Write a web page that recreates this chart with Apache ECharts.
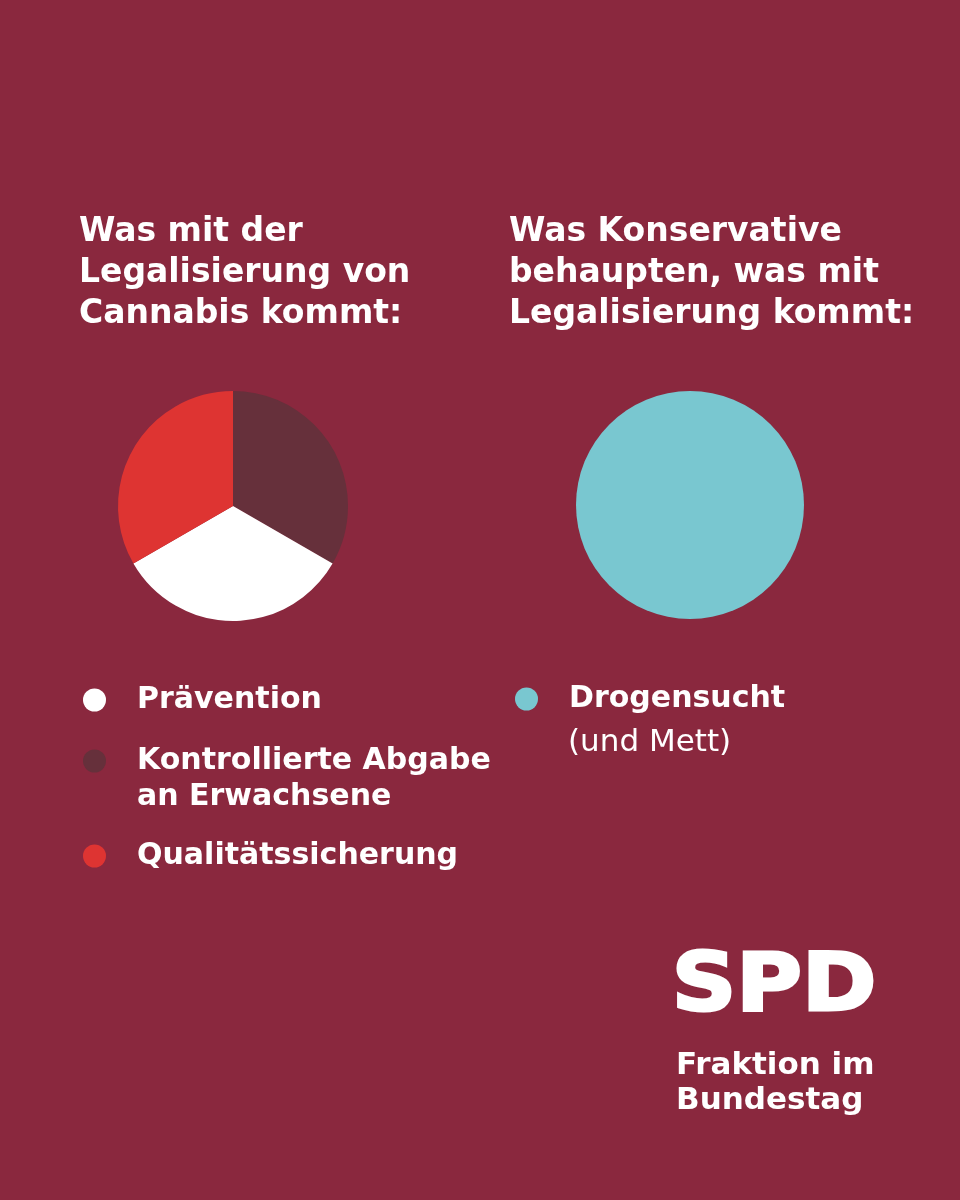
<!DOCTYPE html>
<html>
<head>
<meta charset="utf-8">
<script src="https://cdn.jsdelivr.net/npm/echarts@6/dist/echarts.min.js"></script>
<style>
  html, body { margin: 0; padding: 0; background: #8a283e; }
  #chart { width: 960px; height: 1200px; }
</style>
</head>
<body>
<div id="chart"></div>
<script>
// Daten
const realNames = ['Kontrollierte Abgabe', 'Prävention', 'Qualitätssicherung']
const realValues = [1, 1, 1]
const realColors = ['#66303b', '#ffffff', '#de3432']
const claimNames = ['Drogensucht']
const claimValues = [1]
const claimColors = ['#79c7d0']

const FONT = '"DejaVu Sans"'
const chart = echarts.init(document.getElementById('chart'))

// eine Legende pro Eintrag, damit die Abstände stimmen
function legendItem(name, left, centerY) {
  return {
    data: [name],
    left: left,
    top: centerY - 15,
    padding: 0,
    icon: 'circle',
    itemWidth: 23,
    itemHeight: 23,
    selectedMode: false,
    textStyle: {
      color: '#ffffff',
      fontFamily: FONT,
      fontWeight: 'bold',
      fontSize: 30,
      lineHeight: 30,
      padding: [0, 0, 0, 26]
    }
  }
}

const titleStyle = {
  color: '#fff', fontFamily: FONT, fontWeight: 'bold', fontSize: 33, lineHeight: 41
}

const option = {
  backgroundColor: '#8a283e',
  animation: false,
  title: [
    {
      text: 'Was mit der\nLegalisierung von\nCannabis kommt:',
      left: 79,
      top: 212,
      padding: 0,
      textStyle: titleStyle
    },
    {
      text: 'Was Konservative\nbehaupten, was mit\nLegalisierung kommt:',
      left: 509,
      top: 212,
      padding: 0,
      textStyle: titleStyle
    }
  ],
  legend: [
    legendItem('Prävention', 83, 700),
    legendItem('Kontrollierte Abgabe', 83, 761),
    legendItem('Qualitätssicherung', 83, 856),
    legendItem('Drogensucht', 515, 699)
  ],
  series: [
    {
      type: 'pie',
      center: [233, 506],
      radius: 115,
      startAngle: 90,
      silent: true,
      label: { show: false },
      labelLine: { show: false },
      data: realNames.map((n, i) => ({ name: n, value: realValues[i], itemStyle: { color: realColors[i] } }))
    },
    {
      type: 'pie',
      center: [690, 505],
      radius: 114,
      startAngle: 90,
      silent: true,
      label: { show: false },
      labelLine: { show: false },
      data: claimNames.map((n, i) => ({ name: n, value: claimValues[i], itemStyle: { color: claimColors[i] } }))
    }
  ],
  graphic: [
    {
      type: 'text', left: 137, top: 782,
      style: { text: 'an Erwachsene', fill: '#fff', font: 'bold 30px ' + FONT }
    },
    {
      type: 'text', left: 568, top: 727,
      style: { text: '(und Mett)', fill: '#fff', font: '31px ' + FONT }
    },
    {
      type: 'text', left: 670, top: 948, scaleX: 1.12,
      style: { text: 'SPD', fill: '#fff', font: 'bold 80px ' + FONT, stroke: '#fff', lineWidth: 3 }
    },
    {
      type: 'text', left: 676, top: 1050,
      style: { text: 'Fraktion im', fill: '#fff', font: 'bold 31px ' + FONT }
    },
    {
      type: 'text', left: 676, top: 1085,
      style: { text: 'Bundestag', fill: '#fff', font: 'bold 31px ' + FONT }
    }
  ]
}

chart.setOption(option)
</script>
</body>
</html>
